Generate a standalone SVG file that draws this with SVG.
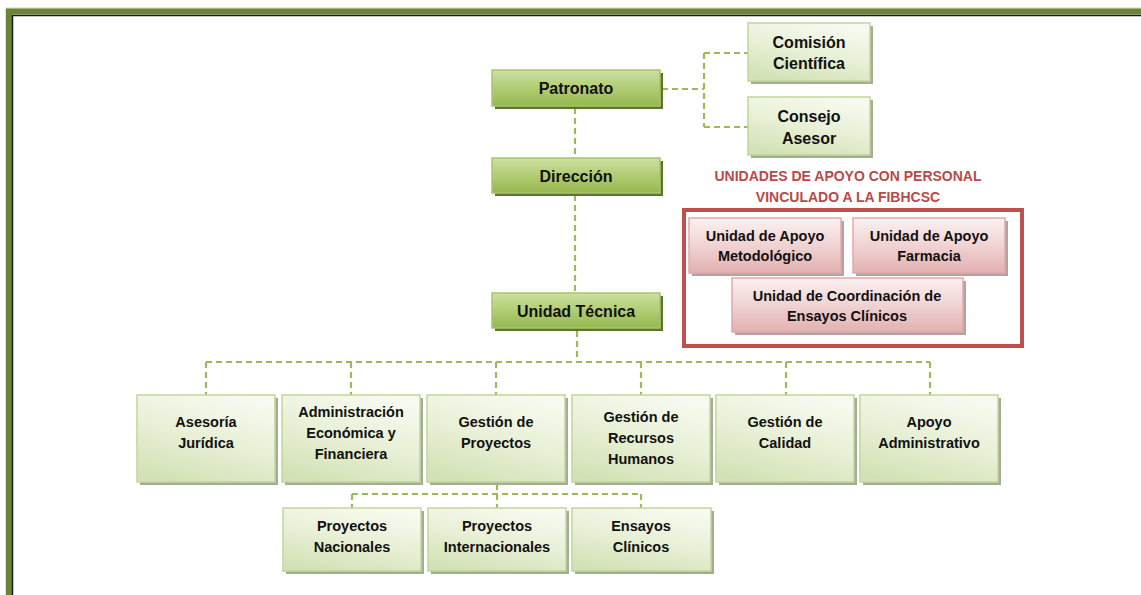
<svg xmlns="http://www.w3.org/2000/svg" width="1141" height="595" viewBox="0 0 1141 595">
<defs>
<linearGradient id="gDark" x1="0" y1="0" x2="0" y2="1">
<stop offset="0" stop-color="#CDE0A3"/>
<stop offset="0.5" stop-color="#B1CD73"/>
<stop offset="1" stop-color="#96B751"/>
</linearGradient>
<linearGradient id="gLight" x1="0.7" y1="0" x2="0.3" y2="1">
<stop offset="0" stop-color="#F7FAF0"/>
<stop offset="0.5" stop-color="#E8F0D6"/>
<stop offset="1" stop-color="#D3E2B6"/>
</linearGradient>
<linearGradient id="gRed" x1="0.5" y1="0" x2="0.5" y2="1">
<stop offset="0" stop-color="#FBF1F1"/>
<stop offset="0.5" stop-color="#F0D3D3"/>
<stop offset="1" stop-color="#E2B0B0"/>
</linearGradient>
<style>
.dark{fill:url(#gDark);stroke:#A9C56C;stroke-width:1.5}
.darksh{fill:#5E7530}
.light{fill:url(#gLight);stroke:#C2D69B;stroke-width:1.5}
.lightsh{fill:#A3AC94}
.red{fill:url(#gRed);stroke:#E3A9A9;stroke-width:1.5}
.redsh{fill:#AFA3A3}
.t{font-family:"Liberation Sans",Arial,sans-serif;font-weight:bold;font-size:14.5px;fill:#111;text-anchor:middle;dominant-baseline:central}
.tb{font-size:16px}
.title{font-family:"Liberation Sans",Arial,sans-serif;font-weight:bold;font-size:14px;fill:#B94A48;text-anchor:middle;dominant-baseline:central}
.c{fill:none;stroke:#9BBB59;stroke-width:2.2;stroke-dasharray:6 4}
</style>
</defs>
<rect width="1141" height="595" fill="#fff"/>
<g id="frame">
<rect x="6" y="8" width="1160" height="600" fill="none" stroke="#C9D5AE" stroke-width="1"/>
<path d="M9 600 V11.5 H1150" fill="none" stroke="#6B8237" stroke-width="6"/>
<path d="M12.5 600 V15.5 H1150" fill="none" stroke="#1A1A1A" stroke-width="1.5"/>
</g>
<g id="connectors">
<path class="c" d="M662 89 H704 M704 53 V127 M704 53 H748 M704 127 H748"/>
<path class="c" d="M575 108 V158"/>
<path class="c" d="M575 195 V293"/>
<path class="c" d="M577 331 V362"/>
<path class="c" d="M206 362 H930"/>
<path class="c" d="M206 362 V395 M351 362 V395 M496 362 V395 M641 362 V395 M786 362 V395 M930 362 V395"/>
<path class="c" d="M497 484 V508"/>
<path class="c" d="M352 494 H641 M352 494 V508 M641 494 V508"/>
</g>
<g id="patronato"><rect class="darksh" x="495" y="73" width="168" height="36"/><rect class="dark" x="492" y="70" width="168" height="36"/><text class="t tb" x="576" y="88">Patronato</text></g>
<g id="direccion"><rect class="darksh" x="495" y="161" width="168" height="35"/><rect class="dark" x="492" y="158" width="168" height="35"/><text class="t tb" x="576" y="176">Dirección</text></g>
<g id="unidad-tecnica"><rect class="darksh" x="495" y="296" width="168" height="35"/><rect class="dark" x="492" y="293" width="168" height="35"/><text class="t tb" x="576" y="311">Unidad Técnica</text></g>
<g id="comision"><rect class="lightsh" x="751" y="26" width="122" height="58"/><rect class="light" x="748" y="23" width="122" height="58"/><text class="t tb" x="809" y="42">Comisión</text><text class="t tb" x="809" y="63">Científica</text></g>
<g id="consejo"><rect class="lightsh" x="751" y="100" width="122" height="58"/><rect class="light" x="748" y="97" width="122" height="58"/><text class="t tb" x="809" y="116">Consejo</text><text class="t tb" x="809" y="138">Asesor</text></g>
<g id="unidades-apoyo">
<text class="title" x="848" y="176">UNIDADES DE APOYO CON PERSONAL</text>
<text class="title" x="848" y="197">VINCULADO A LA FIBHCSC</text>
<rect x="684" y="210" width="338" height="136" fill="none" stroke="#C0504D" stroke-width="4"/>
</g>
<g id="apoyo-metodologico"><rect class="redsh" x="692" y="221" width="152" height="55"/><rect class="red" x="689" y="218" width="152" height="55"/><text class="t" x="765" y="236">Unidad de Apoyo</text><text class="t" x="765" y="256">Metodológico</text></g>
<g id="apoyo-farmacia"><rect class="redsh" x="856" y="221" width="152" height="55"/><rect class="red" x="853" y="218" width="152" height="55"/><text class="t" x="929" y="236">Unidad de Apoyo</text><text class="t" x="929" y="256">Farmacia</text></g>
<g id="coordinacion"><rect class="redsh" x="735" y="281" width="231" height="54"/><rect class="red" x="732" y="278" width="231" height="54"/><text class="t" x="847" y="296">Unidad de Coordinación de</text><text class="t" x="847" y="316">Ensayos Clínicos</text></g>
<g id="asesoria"><rect class="lightsh" x="140" y="398" width="138" height="87"/><rect class="light" x="137" y="395" width="138" height="87"/><text class="t" x="206" y="422">Asesoría</text><text class="t" x="206" y="443">Jurídica</text></g>
<g id="administracion"><rect class="lightsh" x="285" y="398" width="138" height="87"/><rect class="light" x="282" y="395" width="138" height="87"/><text class="t" x="351" y="412">Administración</text><text class="t" x="351" y="433">Económica y</text><text class="t" x="351" y="454">Financiera</text></g>
<g id="gestion-proyectos"><rect class="lightsh" x="430" y="398" width="138" height="87"/><rect class="light" x="427" y="395" width="138" height="87"/><text class="t" x="496" y="422">Gestión de</text><text class="t" x="496" y="443">Proyectos</text></g>
<g id="gestion-rrhh"><rect class="lightsh" x="575" y="398" width="138" height="87"/><rect class="light" x="572" y="395" width="138" height="87"/><text class="t" x="641" y="417">Gestión de</text><text class="t" x="641" y="438">Recursos</text><text class="t" x="641" y="459">Humanos</text></g>
<g id="gestion-calidad"><rect class="lightsh" x="719" y="398" width="138" height="87"/><rect class="light" x="716" y="395" width="138" height="87"/><text class="t" x="785" y="422">Gestión de</text><text class="t" x="785" y="443">Calidad</text></g>
<g id="apoyo-administrativo"><rect class="lightsh" x="863" y="398" width="138" height="87"/><rect class="light" x="860" y="395" width="138" height="87"/><text class="t" x="929" y="422">Apoyo</text><text class="t" x="929" y="443">Administrativo</text></g>
<g id="proyectos-nacionales"><rect class="lightsh" x="286" y="511" width="138" height="63"/><rect class="light" x="283" y="508" width="138" height="63"/><text class="t" x="352" y="526">Proyectos</text><text class="t" x="352" y="547">Nacionales</text></g>
<g id="proyectos-internacionales"><rect class="lightsh" x="431" y="511" width="138" height="63"/><rect class="light" x="428" y="508" width="138" height="63"/><text class="t" x="497" y="526">Proyectos</text><text class="t" x="497" y="547">Internacionales</text></g>
<g id="ensayos-clinicos"><rect class="lightsh" x="575" y="511" width="139" height="63"/><rect class="light" x="572" y="508" width="139" height="63"/><text class="t" x="641" y="526">Ensayos</text><text class="t" x="641" y="547">Clínicos</text></g>
</svg>
